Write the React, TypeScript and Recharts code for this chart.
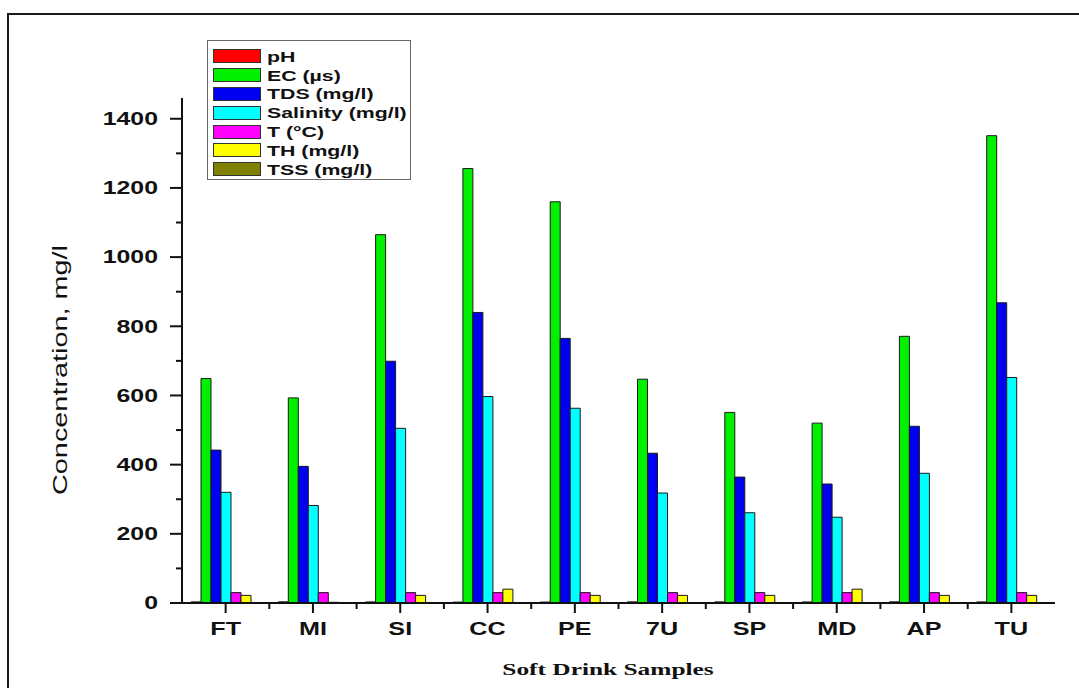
import React from 'react';
import { BarChart, Bar, XAxis, YAxis } from 'recharts';

// ---- data ----
const categories = ['FT', 'MI', 'SI', 'CC', 'PE', '7U', 'SP', 'MD', 'AP', 'TU'];
const pHValues = [3.2, 3.4, 3.1, 2.6, 2.8, 3.3, 3.2, 3.0, 3.4, 3.1];
const ecValues = [649, 593, 1065, 1256, 1160, 647, 551, 520, 771, 1351];
const tdsValues = [442, 395, 699, 840, 765, 433, 364, 344, 511, 868];
const salinityValues = [320, 282, 505, 597, 563, 318, 261, 248, 375, 652];
const tempValues = [30, 30, 30, 30, 30, 30, 30, 30, 30, 30];
const thValues = [22, 2, 22, 40, 22, 22, 22, 40, 22, 22];
const tssValues = [1.5, 1.5, 1.5, 1.5, 1.5, 1.5, 1.5, 1.5, 1.5, 1.5];

const seriesKeys = ['pH', 'EC', 'TDS', 'Salinity', 'T', 'TH', 'TSS'];
const seriesNames = ['pH', 'EC (µs)', 'TDS (mg/l)', 'Salinity (mg/l)', 'T (°C)', 'TH (mg/l)', 'TSS (mg/l)'];
const seriesColors = ['#FF0000', '#00F000', '#0000F0', '#00FFFF', '#FF00FF', '#FFFF00', '#808000'];
const seriesValues = [pHValues, ecValues, tdsValues, salinityValues, tempValues, thValues, tssValues];

const yTicks = [0, 100, 200, 300, 400, 500, 600, 700, 800, 900, 1000, 1100, 1200, 1300, 1400];
const yDomain = [0, 1460];

const xTitle = 'Soft Drink Samples';
const yTitle = 'Concentration, mg/l';

const data = categories.map((c, i) => {
  const row: Record<string, number | string> = { name: c };
  seriesKeys.forEach((k, j) => {
    row[k] = seriesValues[j][i];
  });
  return row;
});

const SANS = "'Liberation Sans', Arial, sans-serif";
const SERIF = "'Liberation Serif', 'Times New Roman', serif";

const YTick = (props: any) => {
  const { x, y, payload } = props;
  const major = payload.value % 200 === 0;
  return (
    <g>
      <line x1={x - (major ? 12 : 6)} x2={x} y1={y} y2={y} stroke="#111" strokeWidth={2} />
      {major && (
        <text
          transform={`translate(${x - 24},${y}) scale(1.38,1)`}
          textAnchor="end"
          dominantBaseline="central"
          fontFamily={SANS}
          fontWeight="bold"
          fontSize={18}
          fill="#111"
        >
          {payload.value}
        </text>
      )}
    </g>
  );
};

const XTick = (props: any) => {
  const { x, y, payload, index } = props;
  const half = payload && payload.offset ? payload.offset : 43.65;
  return (
    <g>
      <line x1={x} x2={x} y1={y} y2={y + 10} stroke="#111" strokeWidth={2} />
      {index > 0 && (
        <line x1={x - half} x2={x - half} y1={y} y2={y + 6} stroke="#111" strokeWidth={2} />
      )}
      {index === 0 && (
        <line x1={x - half - 12} x2={x - half} y1={y} y2={y} stroke="#111" strokeWidth={2} />
      )}
      <text
        transform={`translate(${x},${y + 32}) scale(1.4,1)`}
        textAnchor="middle"
        fontFamily={SANS}
        fontWeight="bold"
        fontSize={18}
        fill="#111"
      >
        {payload.value}
      </text>
    </g>
  );
};

const YLabel = () => (
  <text
    transform="translate(59,370) rotate(-90)"
    textAnchor="middle"
    dominantBaseline="central"
    fontFamily={SANS}
    fontSize={21}
    textLength={250}
    lengthAdjust="spacingAndGlyphs"
    fill="#111"
  >
    {yTitle}
  </text>
);

const XLabel = () => (
  <text
    transform="translate(608,675) scale(1.45,1)"
    textAnchor="middle"
    fontFamily={SERIF}
    fontWeight="bold"
    fontSize={17.5}
    fill="#111"
  >
    {xTitle}
  </text>
);

export default function App() {
  return (
    <div style={{ position: 'fixed', left: 0, top: 0, width: 1079, height: 688, overflow: 'hidden', background: '#fff' }}>
      <div
        style={{
          position: 'absolute',
          left: 7,
          top: 13,
          width: 1100,
          height: 700,
          borderLeft: '2px solid #1a1a1a',
          borderTop: '2px solid #1a1a1a',
        }}
      />
      <div style={{ position: 'absolute', left: 0, top: 0 }}>
        <BarChart
          width={1079}
          height={688}
          data={data}
          margin={{ top: 98, right: 24, bottom: 0, left: 0 }}
          barGap={0}
          barSize={10}
        >
          <XAxis
            dataKey="name"
            height={85}
            axisLine={{ stroke: '#111', strokeWidth: 2 }}
            tickLine={false}
            tickSize={0}
            tickMargin={0}
            interval={0}
            tick={<XTick />}
            label={<XLabel />}
          />
          <YAxis
            width={182}
            domain={yDomain}
            ticks={yTicks}
            interval={0}
            allowDataOverflow
            axisLine={{ stroke: '#111', strokeWidth: 2 }}
            tickLine={false}
            tickSize={0}
            tickMargin={0}
            tick={<YTick />}
            label={<YLabel />}
          />
          {seriesKeys.map((k, j) => (
            <Bar
              key={k}
              dataKey={k}
              name={seriesNames[j]}
              fill={seriesColors[j]}
              stroke="#1a1a1a"
              strokeWidth={1}
              isAnimationActive={false}
            />
          ))}
        </BarChart>
      </div>
      <div
        style={{
          position: 'absolute',
          left: 207,
          top: 40,
          width: 204,
          height: 140,
          border: '1px solid #666',
          boxSizing: 'border-box',
          paddingTop: 6,
        }}
      >
        {seriesKeys.map((k, j) => (
          <div key={k} style={{ height: 18.8, display: 'flex', alignItems: 'center', position: 'relative' }}>
            <div
              style={{
                position: 'absolute',
                left: 5,
                width: 46,
                height: 12,
                background: seriesColors[j],
                border: '1px solid #333',
              }}
            />
            <span
              style={{
                position: 'absolute',
                left: 59,
                fontFamily: SANS,
                fontWeight: 'bold',
                fontSize: 15,
                color: '#111',
                whiteSpace: 'nowrap',
                transform: 'scale(1.42,1)',
                transformOrigin: 'left center',
              }}
            >
              {seriesNames[j]}
            </span>
          </div>
        ))}
      </div>
    </div>
  );
}
